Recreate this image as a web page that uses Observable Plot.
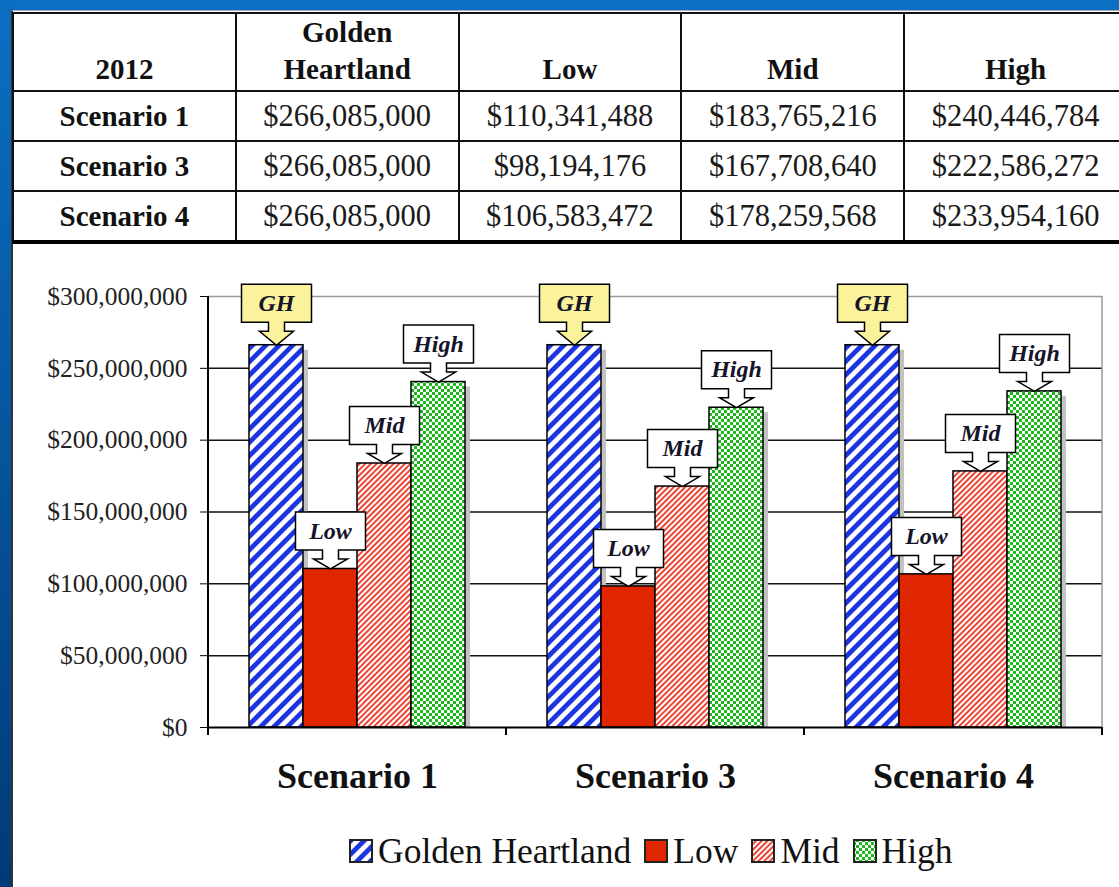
<!DOCTYPE html>
<html>
<head>
<meta charset="utf-8">
<script src="https://cdn.jsdelivr.net/npm/d3@7"></script>
<script src="https://cdn.jsdelivr.net/npm/@observablehq/plot@0.6"></script>
<style>
html,body{margin:0;padding:0;}
body{width:1119px;height:887px;overflow:hidden;position:relative;background:#0a70c4;font-family:"Liberation Serif","Times New Roman",serif;}
#leftbar{position:absolute;left:0;top:0;width:12px;height:887px;background:linear-gradient(to bottom,#0b6fc2,#003a78);}
#panel{position:absolute;left:11px;top:10px;width:1120px;height:890px;background:#fff;border-left:2px solid #333;border-top:1px solid #aab;}
#tbl{position:absolute;left:12px;top:12px;border-collapse:collapse;table-layout:fixed;width:1116px;color:#111;}
#tbl th,#tbl td{border:2px solid #111;text-align:center;padding:0;}
#tbl th{font-weight:bold;font-size:29px;height:72px;vertical-align:bottom;line-height:37px;padding-bottom:2px;}
#tbl td{font-size:30.5px;height:48px;color:#1a1a1a;}
#tbl td.rl{font-weight:bold;font-size:29px;color:#111;}
#tbl tr:last-child td{border-bottom:4px solid #000;}
#chart{position:absolute;left:0;top:245px;}
#legend{position:absolute;left:349px;top:830px;display:flex;align-items:center;font-size:35.5px;color:#111;white-space:nowrap;}
#legend .item{display:flex;align-items:center;margin-right:13px;}
#legend svg{margin-right:5px;}
</style>
</head>
<body>
<svg width="0" height="0" style="position:absolute">
  <defs>
    <pattern id="pGH" patternUnits="userSpaceOnUse" width="9.5" height="9.5" patternTransform="rotate(45)">
      <rect width="9.5" height="9.5" fill="#ffffff"/>
      <rect width="4.8" height="9.5" fill="#1d35e0"/>
    </pattern>
    <pattern id="pMid" patternUnits="userSpaceOnUse" width="4" height="4" patternTransform="rotate(45)">
      <rect width="4" height="4" fill="#ffffff"/>
      <rect width="1.9" height="4" fill="#ee3b2b"/>
    </pattern>
    <pattern id="pHigh" patternUnits="userSpaceOnUse" width="6" height="6">
      <rect width="6" height="6" fill="#1cb81c"/>
      <rect x="0" y="0" width="3" height="3" fill="#ffffff"/>
      <rect x="3" y="3" width="3" height="3" fill="#ffffff"/>
    </pattern>
  </defs>
</svg>
<div id="leftbar"></div>
<div id="panel"></div>
<table id="tbl"></table>
<div id="chart"></div>
<div id="legend"></div>
<script>
// ---- data ----
const tableYear = "2012";
const scenarios = ["Scenario 1", "Scenario 3", "Scenario 4"];
const seriesNames = ["Golden Heartland", "Low", "Mid", "High"];
const calloutLabels = ["GH", "Low", "Mid", "High"];
const goldenHeartland = [266085000, 266085000, 266085000];
const low = [110341488, 98194176, 106583472];
const mid = [183765216, 167708640, 178259568];
const high = [240446784, 222586272, 233954160];
const yTicks = [0, 50000000, 100000000, 150000000, 200000000, 250000000, 300000000];

const seriesValues = [goldenHeartland, low, mid, high];
const seriesFills = ["url(#pGH)", "#e02600", "url(#pMid)", "url(#pHigh)"];
const money = d => "$" + d3.format(",")(d);

const data = scenarios.flatMap((s, i) => seriesNames.map((n, j) => ({
  scenario: s, series: n, label: calloutLabels[j], value: seriesValues[j][i]
})));

// ---- table ----
const tbl = d3.select("#tbl");
const hr = tbl.append("tr");
hr.append("th").text(tableYear);
seriesNames.forEach(n => {
  const th = hr.append("th");
  if (n === "Golden Heartland") th.html("Golden<br>Heartland"); else th.text(n);
});
scenarios.forEach((s, i) => {
  const tr = tbl.append("tr");
  tr.append("td").attr("class", "rl").text(s);
  seriesValues.forEach(v => tr.append("td").text(money(v[i])));
});

// ---- callout symbol ----
function callout(top, bot) {
  return {
    draw(ctx) {
      const bw = 35, sw = 8, hw = 17, neck = bot + 9, tip = 0;
      ctx.moveTo(-bw, top); ctx.lineTo(bw, top); ctx.lineTo(bw, bot);
      ctx.lineTo(sw, bot); ctx.lineTo(sw, neck); ctx.lineTo(hw, neck);
      ctx.lineTo(0, tip); ctx.lineTo(-hw, neck); ctx.lineTo(-sw, neck);
      ctx.lineTo(-sw, bot); ctx.lineTo(-bw, bot); ctx.closePath();
    }
  };
}
const ghData = data.filter(d => d.series === "Golden Heartland");
const otherData = data.filter(d => d.series !== "Golden Heartland");

const plot = Plot.plot({
  width: 1119, height: 565,
  marginLeft: 208, marginRight: 17, marginTop: 51, marginBottom: 83,
  style: {fontFamily: "Liberation Serif, Times New Roman, serif", background: "transparent", overflow: "visible", color: "#111"},
  fx: {domain: scenarios, padding: 0},
  x: {domain: seriesNames, paddingInner: 0, paddingOuter: 0.71, axis: null},
  y: {domain: [0, 300000000]},
  color: {domain: seriesNames, range: seriesFills},
  marks: [
    Plot.gridY(yTicks.filter(v => v > 0 && v < 300000000), {stroke: "#111", strokeOpacity: 1, strokeWidth: 1.5}),
    Plot.ruleY([300000000], {stroke: "#9a9a9a", strokeWidth: 1.5}),
    Plot.barY(data, {fx: "scenario", x: "series", y: "value", fill: "#c2c2c2", dx: 5, insetTop: 5}),
    Plot.barY(data, {fx: "scenario", x: "series", y: "value", fill: "series", stroke: "#000", strokeWidth: 1.5}),
    Plot.ruleY([0], {stroke: "#000", strokeWidth: 2}),
    Plot.dot(ghData, {fx: "scenario", x: "series", y: "value", r: 10, symbol: callout(-61, -23), fill: "#faf39c", stroke: "#000", strokeWidth: 1.5}),
    Plot.dot(otherData, {fx: "scenario", x: "series", y: "value", r: 10, symbol: callout(-57, -19), fill: "#ffffff", stroke: "#000", strokeWidth: 1.5}),
    Plot.text(ghData, {fx: "scenario", x: "series", y: "value", text: "label", dy: -42, fontStyle: "italic", fontWeight: "bold", fontSize: 24, fill: "#15152a"}),
    Plot.text(otherData, {fx: "scenario", x: "series", y: "value", text: "label", dy: -38, fontStyle: "italic", fontWeight: "bold", fontSize: 24, fill: "#15152a"}),
    Plot.axisY({ticks: yTicks, tickFormat: money, tickSize: 8, tickPadding: 13, fontSize: 25.5, fill: "#222", stroke: "#000", label: null}),
    Plot.axisFx({anchor: "bottom", tickSize: 0, tickPadding: 35, fontSize: 36, fontWeight: "bold", label: null})
  ]
});
document.getElementById("chart").appendChild(plot);

// axis lines and category boundary ticks from the plot's own scales
const fxs = plot.scale("fx"), ys = plot.scale("y");
const x0 = fxs.apply(scenarios[0]), step = fxs.bandwidth;
const yTop = ys.apply(300000000), yBot = ys.apply(0);
const g = d3.select(plot).append("g");
g.append("line").attr("x1", x0 + step * scenarios.length).attr("x2", x0 + step * scenarios.length)
  .attr("y1", yTop).attr("y2", yBot).attr("stroke", "#9a9a9a").attr("stroke-width", 1.5);
g.append("line").attr("x1", x0).attr("x2", x0).attr("y1", yTop).attr("y2", yBot + 8)
  .attr("stroke", "#000").attr("stroke-width", 2);
for (let i = 0; i <= scenarios.length; i++) {
  g.append("line").attr("x1", x0 + i * step).attr("x2", x0 + i * step)
    .attr("y1", yBot).attr("y2", yBot + 8).attr("stroke", "#000").attr("stroke-width", 2);
}

// ---- legend ----
const leg = d3.select("#legend");
seriesNames.forEach((n, j) => {
  const it = leg.append("div").attr("class", "item");
  const s = it.append("svg").attr("width", 24).attr("height", 24);
  s.append("rect").attr("x", 1).attr("y", 1).attr("width", 22).attr("height", 22)
    .attr("fill", seriesFills[j]).attr("stroke", "#222").attr("stroke-width", 2);
  it.append("span").text(n);
});
</script>
</body>
</html>
